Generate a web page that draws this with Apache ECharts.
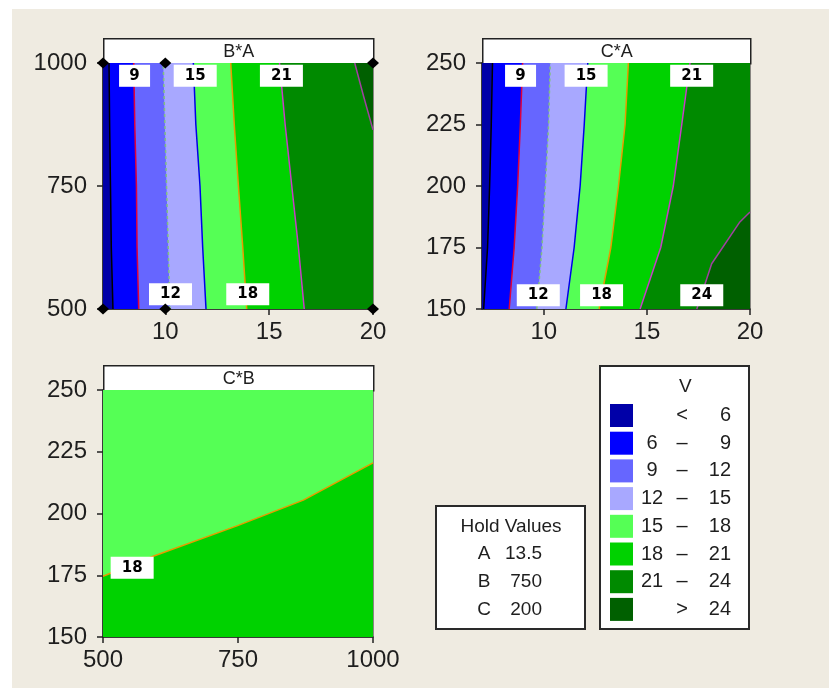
<!DOCTYPE html>
<html>
<head>
<meta charset="utf-8">
<title>Contour Plots of V</title>
<script src="https://cdn.jsdelivr.net/npm/echarts@6/dist/echarts.min.js"></script>
<style>
  html, body { margin: 0; padding: 0; background: #fff; }
  #chart { width: 829px; height: 693px; }
</style>
</head>
<body>
<div id="chart"></div>
<script>
// 图例分段 & 等高线水平
const bandNames = ['< 6', '6 – 9', '9 – 12', '12 – 15', '15 – 18', '18 – 21', '21 – 24', '> 24'];
const levels = [6, 9, 12, 15, 18, 21, 24];

// Hold Values
const holdNames = ['A', 'B', 'C'];
const holdValues = ['13.5', '750', '200'];

// 坐标轴范围和刻度
const aRange = [7, 20];
const bRange = [500, 1000];
const cRange = [150, 250];
const aTicks = [10, 15, 20];
const bTicks = [500, 750, 1000];
const cTicks = [150, 175, 200, 225, 250];

// B*A : A (x) - B (y)，每条等高线从下往上
const baContours = [
  [[7.48, 500], [7.40, 625], [7.36, 750], [7.32, 875], [7.29, 1000]],
  [[8.72, 500], [8.64, 625], [8.61, 750], [8.53, 875], [8.48, 1000]],
  [[10.22, 500], [10.14, 625], [10.06, 750], [9.98, 875], [9.90, 1000]],
  [[11.96, 500], [11.80, 625], [11.67, 750], [11.47, 875], [11.35, 1000]],
  [[13.92, 500], [13.73, 625], [13.52, 750], [13.32, 875], [13.15, 1000]],
  [[16.69, 500], [16.41, 625], [16.09, 750], [15.77, 875], [15.50, 1000]],
  [[20, 864], [19.55, 932], [19.12, 1000]]
];
const baLabels = [[8.52, 974, '9'], [11.44, 974, '15'], [15.59, 974, '21'], [10.25, 530, '12'], [13.97, 530, '18']];
const baPoints = [[7, 500], [10, 500], [20, 500], [7, 1000], [10, 1000], [20, 1000]];

// C*A : A (x) - C (y)
const caContours = [
  [[7.08, 150], [7.27, 175], [7.37, 200], [7.45, 225], [7.51, 250]],
  [[8.32, 150], [8.56, 175], [8.73, 200], [8.86, 225], [8.97, 250]],
  [[9.66, 150], [9.91, 175], [10.07, 200], [10.23, 225], [10.31, 250]],
  [[11.07, 150], [11.47, 175], [11.76, 200], [11.96, 225], [12.13, 250]],
  [[12.68, 150], [13.25, 175], [13.62, 200], [13.94, 225], [14.10, 250]],
  [[14.67, 150], [15.67, 175], [16.28, 200], [16.69, 225], [17.09, 250]],
  [[17.42, 150], [18.14, 168.4], [19.51, 185.4], [20, 189.4]]
];
const caLabels = [[8.87, 244.8, '9'], [12.05, 244.8, '15'], [17.17, 244.8, '21'], [9.73, 155.6, '12'], [12.80, 155.6, '18'], [17.66, 155.6, '24']];

// C*B : B (x) - C (y)，只有 18 一条线
const cbContours = [
  [[500, 174.6], [593, 182.7], [748, 195.0], [871, 205.4], [1000, 220.5]]
];
const cbLabels = [[554, 178, '18']];

// 颜色
const bandColors = ['#0000A8', '#0000FF', '#6666FF', '#A8A8FF', '#55FF55', '#00D200', '#008A00', '#006000'];
const lineColors = ['#000000', '#E0003A', '#80C080', '#0000E8', '#E89A00', '#C83CC8', '#A040A0'];
const fontFamily = "'Liberation Sans', Arial, sans-serif";
const textColor = '#1e1e1e';

const panels = [
  { title: 'B*A', grid: { left: 103, top: 63, width: 270, height: 246 }, x: aRange, y: bRange, xTicks: aTicks, yTicks: bTicks,
    base: 0, firstLevel: 0, side: 'right', contours: baContours, labels: baLabels, points: baPoints },
  { title: 'C*A', grid: { left: 482, top: 63, width: 268, height: 246 }, x: aRange, y: cRange, xTicks: aTicks, yTicks: cTicks,
    base: 0, firstLevel: 0, side: 'right', contours: caContours, labels: caLabels, points: [] },
  { title: 'C*B', grid: { left: 103, top: 390, width: 270, height: 247 }, x: bRange, y: cRange, xTicks: bTicks, yTicks: cTicks,
    base: 4, firstLevel: 4, side: 'below', contours: cbContours, labels: cbLabels, points: [] }
];

// 把等高线闭合成多边形（高值一侧）
const closePolygon = (pts, side, xr, yr) => {
  if (side === 'below') {
    return pts.concat([[xr[1], yr[0]], [xr[0], yr[0]]]);
  }
  return pts.concat([[xr[1], pts[pts.length - 1][1]], [xr[1], pts[0][1]]]);
};

// 多边形用 custom series 绘制，坐标经过 api.coord 转换
const polygonSeries = (name, color, idx, data) => ({
  name: name,
  type: 'custom',
  xAxisIndex: idx,
  yAxisIndex: idx,
  itemStyle: { color: color },
  silent: true,
  clip: true,
  z: 1,
  data: data,
  renderItem: (params, api) => {
    if (params.dataIndex !== 0) return;
    const points = [];
    for (let i = 0; i < params.dataInsideLength; i++) {
      points.push(api.coord([api.value(0, i), api.value(1, i)]));
    }
    return { type: 'polygon', shape: { points: points }, style: { fill: color } };
  }
});

const grids = [], xAxes = [], yAxes = [], series = [], graphics = [];

const axisCommon = {
  type: 'value',
  splitLine: { show: false },
  axisLine: { show: true, onZero: false, lineStyle: { color: '#222', width: 1.5 } },
  axisTick: { show: true, length: 6, lineStyle: { color: '#222', width: 1.5 } }
};

panels.forEach((p, idx) => {
  grids.push(Object.assign({ show: true, borderColor: '#222', borderWidth: 1, backgroundColor: 'transparent' }, p.grid));
  xAxes.push(Object.assign({}, axisCommon, {
    gridIndex: idx, min: p.x[0], max: p.x[1],
    axisTick: Object.assign({}, axisCommon.axisTick, { customValues: p.xTicks }),
    axisLabel: { customValues: p.xTicks, formatter: (v) => String(v), margin: 11, fontSize: 24, fontFamily: fontFamily, color: textColor }
  }));
  yAxes.push(Object.assign({}, axisCommon, {
    gridIndex: idx, min: p.y[0], max: p.y[1],
    axisTick: Object.assign({}, axisCommon.axisTick, { customValues: p.yTicks }),
    axisLabel: { customValues: p.yTicks, formatter: (v) => String(v), margin: 16, fontSize: 24, fontFamily: fontFamily, color: textColor }
  }));

  // 底色（最低一段）
  series.push(polygonSeries(bandNames[p.base], bandColors[p.base], idx,
    [[p.x[0], p.y[0]], [p.x[1], p.y[0]], [p.x[1], p.y[1]], [p.x[0], p.y[1]]]));

  // 每条等高线高值一侧
  p.contours.forEach((pts, k) => {
    const li = p.firstLevel + k;
    series.push(polygonSeries(bandNames[li + 1], bandColors[li + 1], idx, closePolygon(pts, p.side, p.x, p.y)));
  });

  // 等高线
  p.contours.forEach((pts, k) => {
    const li = p.firstLevel + k;
    series.push({
      name: p.title + ' ' + levels[li],
      type: 'line',
      xAxisIndex: idx,
      yAxisIndex: idx,
      data: pts,
      showSymbol: false,
      silent: true,
      z: 3,
      lineStyle: { color: lineColors[li], width: 1.5, type: levels[li] === 12 ? [3, 3] : 'solid' }
    });
  });

  // 等高线数值标签
  series.push({
    name: p.title + ' labels',
    type: 'scatter',
    xAxisIndex: idx,
    yAxisIndex: idx,
    data: p.labels,
    symbol: 'rect',
    symbolSize: (val, params) => (String(params.data[2]).length > 1 ? [43, 22] : [31, 22]),
    itemStyle: { color: '#fff', opacity: 1 },
    silent: true,
    z: 5,
    label: {
      show: true,
      position: 'inside',
      formatter: (params) => params.data[2],
      fontFamily: "'DejaVu Sans', sans-serif",
      fontWeight: 'bold',
      fontSize: 15,
      color: '#000'
    }
  });

  // 设计点
  if (p.points.length) {
    series.push({
      name: p.title + ' points',
      type: 'scatter',
      xAxisIndex: idx,
      yAxisIndex: idx,
      data: p.points,
      symbol: 'diamond',
      symbolSize: [12, 11],
      itemStyle: { color: '#000', opacity: 1 },
      clip: false,
      silent: true,
      z: 6
    });
  }

  // 面板标题条
  graphics.push({
    type: 'group',
    left: p.grid.left,
    top: p.grid.top - 25,
    z: 10,
    children: [
      { type: 'rect', shape: { x: 0, y: 0, width: p.grid.width, height: 25 }, style: { fill: '#fff', stroke: '#222', lineWidth: 1.5 } },
      { type: 'text', x: p.grid.width / 2, y: 13, style: { text: p.title, fontSize: 18, fontFamily: fontFamily, fill: textColor, align: 'center', verticalAlign: 'middle' } }
    ]
  });
});

// 背景（米色区域）
graphics.unshift({ type: 'rect', left: 12, top: 9, z: -10, shape: { width: 817, height: 679 }, style: { fill: '#EFEBE1' } });

// Hold Values 框
const holdChildren = [
  { type: 'rect', shape: { x: 0, y: 0, width: 149, height: 123 }, style: { fill: '#fff', stroke: '#2a2a2a', lineWidth: 2 } },
  { type: 'text', x: 75, y: 21, style: { text: 'Hold Values', fontSize: 19, fontFamily: fontFamily, fill: textColor, align: 'center', verticalAlign: 'middle' } }
];
holdNames.forEach((n, i) => {
  holdChildren.push({ type: 'text', x: 48, y: 48 + i * 28, style: { text: n, fontSize: 19, fontFamily: fontFamily, fill: textColor, align: 'center', verticalAlign: 'middle' } });
  holdChildren.push({ type: 'text', x: 106, y: 48 + i * 28, style: { text: holdValues[i], fontSize: 19, fontFamily: fontFamily, fill: textColor, align: 'right', verticalAlign: 'middle' } });
});
graphics.push({ type: 'group', left: 435, top: 505, z: 10, children: holdChildren });

// 图例标题 V
graphics.push({ type: 'text', left: 679, top: 377, z: 20, style: { text: 'V', fontSize: 19, fontFamily: fontFamily, fill: textColor } });

const chart = echarts.init(document.getElementById('chart'));
chart.setOption({
  backgroundColor: '#fff',
  animation: false,
  grid: grids,
  xAxis: xAxes,
  yAxis: yAxes,
  legend: {
    data: bandNames,
    orient: 'vertical',
    left: 600,
    top: 366,
    padding: [38, 18, 8, 10],
    itemWidth: 23,
    itemHeight: 23,
    itemGap: 4.7,
    icon: 'rect',
    selectedMode: false,
    backgroundColor: '#fff',
    borderColor: '#2a2a2a',
    borderWidth: 2,
    formatter: (name) => {
      const parts = name.split(' ');
      if (parts.length === 2) return '{a|}{b|' + parts[0] + '}{c|' + parts[1] + '}';
      return '{a|' + parts[0] + '}{b|' + parts[1] + '}{c|' + parts[2] + '}';
    },
    textStyle: {
      fontFamily: fontFamily,
      fontSize: 20,
      color: textColor,
      rich: {
        a: { width: 28, align: 'right', fontSize: 20, fontFamily: fontFamily, color: textColor, lineHeight: 23 },
        b: { width: 32, align: 'center', fontSize: 20, fontFamily: fontFamily, color: textColor, lineHeight: 23 },
        c: { width: 33, align: 'right', fontSize: 20, fontFamily: fontFamily, color: textColor, lineHeight: 23 }
      }
    }
  },
  graphic: graphics,
  series: series
});
</script>
</body>
</html>
